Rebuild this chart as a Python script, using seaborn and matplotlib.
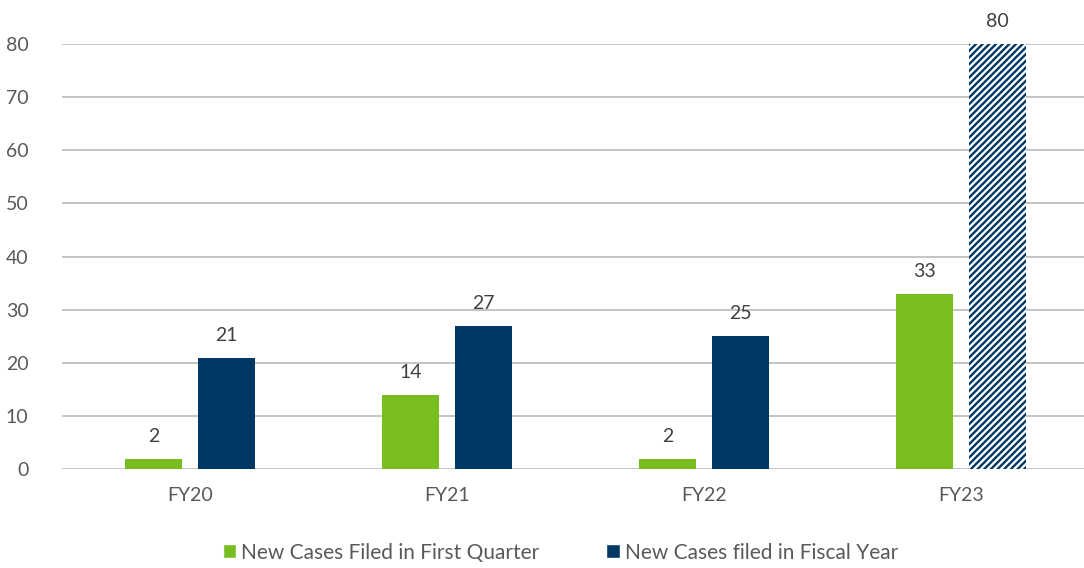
import pandas as pd
import numpy as np
import matplotlib.pyplot as plt
import seaborn as sns
from matplotlib.patches import Patch

years = ['FY20', 'FY21', 'FY22', 'FY23']
first_quarter = [2, 14, 2, 33]
fiscal_year = [21, 27, 25, 80]
series_names = ['New Cases Filed in First Quarter', 'New Cases filed in Fiscal Year']

GREEN = '#78BE21'
NAVY = '#003865'
TEXT = '#595959'

sns.set_style('white')
plt.rcParams['font.family'] = ['Lato', 'DejaVu Sans']
plt.rcParams['hatch.linewidth'] = 1.7
plt.rcParams['hatch.color'] = NAVY

df = pd.DataFrame({
    'year': years * 2,
    'value': first_quarter + fiscal_year,
    'series': [series_names[0]] * 4 + [series_names[1]] * 4,
})

fig, ax = plt.subplots(figsize=(10.84, 5.68), dpi=100)
fig.subplots_adjust(left=0.057, right=1.005, bottom=0.174, top=0.9225)

sns.barplot(data=df, x='year', y='value', hue='series', order=years,
            hue_order=series_names, palette=[GREEN, NAVY],
            width=0.568, gap=0.225, saturation=1, legend=False, ax=ax)

bars = list(ax.patches)
for p in bars:
    p.set_linewidth(0)

# FY23 fiscal-year bar is hatched
last = bars[-1]
last.set_facecolor('white')
last.set_edgecolor(NAVY)
last.set_hatch('/////')

for p in bars:
    h = p.get_height()
    ax.annotate(f'{h:.0f}', (p.get_x() + p.get_width() / 2, h),
                xytext=(0, 10), textcoords='offset points',
                ha='center', va='bottom', fontsize=14, color='#404040',
                annotation_clip=False)

ax.set_ylim(0, 80)
ax.set_xlim(-0.5, 3.5)
ax.set_yticks(range(0, 81, 10))
ax.yaxis.grid(True, color='#BFBFBF', linewidth=1.3)
ax.set_axisbelow(True)
for s in ax.spines.values():
    s.set_visible(False)
ax.set_xlabel('')
ax.set_ylabel('')
ax.tick_params(axis='y', length=0, pad=24, labelsize=14, labelcolor=TEXT)
ax.tick_params(axis='x', length=0, pad=13, labelsize=14, labelcolor=TEXT)

handles = [Patch(facecolor=GREEN), Patch(facecolor=NAVY)]
fig.legend(handles, series_names, loc='center', bbox_to_anchor=(0.517, 0.027),
           ncol=2, frameon=False, fontsize=15, labelcolor=TEXT,
           handlelength=0.65, handleheight=0.65, handletextpad=0.25, columnspacing=3.2)

plt.savefig('out.png', dpi=100)
plt.close()
